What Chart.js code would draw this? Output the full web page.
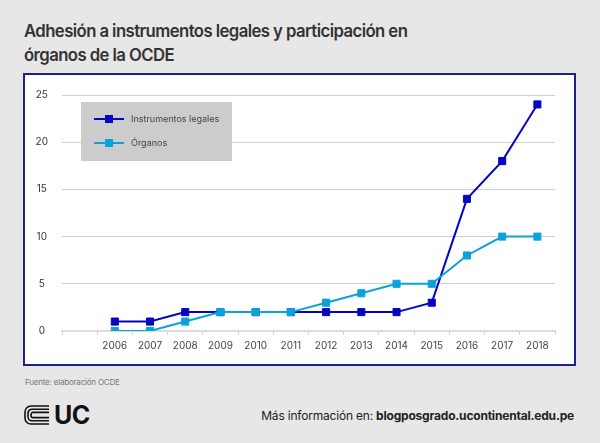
<!DOCTYPE html>
<html>
<head>
<meta charset="utf-8">
<script src="https://cdn.jsdelivr.net/npm/chart.js@4.4.1/dist/chart.umd.min.js"></script>
<style>
  html, body { margin: 0; padding: 0; }
  body { width: 600px; height: 443px; background: #e7e7e7; position: relative; overflow: hidden; font-family: Inter, "Noto Sans", sans-serif; }
  #title { position: absolute; left: 24px; top: 19px; font-size: 17.5px; font-weight: 600; line-height: 24px; color: #333; letter-spacing: -0.6px; transform: scaleX(0.955); transform-origin: 0 0; white-space: nowrap; }
  #box { position: absolute; left: 23px; top: 73px; width: 553px; height: 293px; box-sizing: border-box; border: 2px solid #1f1f8f; background: #fff; }
  #src { position: absolute; left: 25px; top: 377px; font-size: 8px; color: #777; letter-spacing: -0.2px; }
  #logo { position: absolute; left: 24px; top: 403px; height: 24px; display: flex; align-items: center; }
  #logo span { font-size: 25px; font-weight: 700; color: #111; margin-left: 4px; letter-spacing: -0.5px; }
  #more { position: absolute; right: 26px; top: 408px; font-size: 12px; color: #222; letter-spacing: -0.2px; }
  #more b { font-weight: 700; }
</style>
</head>
<body>
<div id="title">Adhesión a instrumentos legales y participación en<br>órganos de la OCDE</div>
<div id="box"><canvas id="c" width="549" height="289"></canvas></div>
<div id="src">Fuente: elaboración OCDE</div>
<div id="logo">
  <svg width="26" height="20" viewBox="0 0 26 20">
    <g fill="none" stroke="#111" stroke-width="1.6">
      <path d="M25 1 H7 A6 6 0 0 0 1 7 V13 A6 6 0 0 0 7 19 H25"/>
      <path d="M25 4.2 H8 A4 4 0 0 0 4 8.2 V11.8 A4 4 0 0 0 8 15.8 H25"/>
      <path d="M25 7.4 H9 A2 2 0 0 0 7 9.4 V10.6 A2 2 0 0 0 9 12.6 H25"/>
    </g>
  </svg>
  <span>UC</span>
</div>
<div id="more">Más información en: <b>blogposgrado.ucontinental.edu.pe</b></div>
<script>
const categories = ["", "2006", "2007", "2008", "2009", "2010", "2011", "2012", "2013", "2014", "2015", "2016", "2017", "2018"];
const instrumentos = [null, 1, 1, 2, 2, 2, 2, 2, 2, 2, 3, 14, 18, 24];
const organos = [null, 0, 0, 1, 2, 2, 2, 3, 4, 5, 5, 8, 10, 10];
const yTicks = [0, 5, 10, 15, 20, 25];
const seriesNames = ["Instrumentos legales", "Órganos"];
const seriesColors = ["#0606c2", "#0ba2da"];

const legendPlugin = {
  id: 'boxLegend',
  afterDraw(chart) {
    const ctx = chart.ctx;
    ctx.save();
    ctx.fillStyle = '#cccccc';
    ctx.fillRect(56, 27, 151, 59);
    const rows = [44, 68];
    chart.data.datasets.forEach((ds, i) => {
      const y = rows[i];
      ctx.strokeStyle = ds.borderColor;
      ctx.lineWidth = 2;
      ctx.beginPath();
      ctx.moveTo(69, y);
      ctx.lineTo(99, y);
      ctx.stroke();
      ctx.fillStyle = ds.borderColor;
      ctx.fillRect(80, y - 4, 8, 8);
      ctx.fillStyle = '#444';
      ctx.font = '9px Inter, "Noto Sans", sans-serif';
      ctx.textBaseline = 'middle';
      ctx.textAlign = 'left';
      ctx.fillText(ds.label, 106, y + 0.5);
    });
    ctx.restore();
  }
};

new Chart(document.getElementById('c'), {
  type: 'line',
  data: {
    labels: categories,
    datasets: [
      { label: seriesNames[0], data: instrumentos, borderColor: seriesColors[0], backgroundColor: seriesColors[0],
        borderWidth: 2, pointStyle: 'rect', pointRadius: 5, pointBorderWidth: 1, pointBackgroundColor: seriesColors[0], pointBorderColor: seriesColors[0], order: 2, tension: 0 },
      { label: seriesNames[1], data: organos, borderColor: seriesColors[1], backgroundColor: seriesColors[1],
        borderWidth: 2, pointStyle: 'rect', pointRadius: 5, pointBorderWidth: 1, pointBackgroundColor: seriesColors[1], pointBorderColor: seriesColors[1], order: 1, tension: 0 }
    ]
  },
  options: {
    responsive: false,
    animation: false,
    devicePixelRatio: 1,
    layout: { padding: { left: 0, right: 19, top: 14, bottom: 0 } },
    plugins: { legend: { display: false }, tooltip: { enabled: false } },
    scales: {
      x: {
        offset: true,
        grid: { drawOnChartArea: false, drawTicks: true, tickLength: 4, color: '#d4d4d4', offset: true },
        border: { display: true, color: '#dcdcdc', width: 2 },
        ticks: { color: '#444', font: { family: 'Inter, "Noto Sans", sans-serif', size: 10 }, padding: 5, maxRotation: 0, autoSkip: false },
        afterFit(s) { s.height = 33; }
      },
      y: {
        min: 0, max: 25,
        afterBuildTicks(s) { s.ticks = yTicks.map(v => ({ value: v })); },
        grid: { color: (c) => c.tick && c.tick.value === 0 ? 'rgba(0,0,0,0)' : '#cfcfcf', lineWidth: 1, drawTicks: false },
        border: { display: false },
        ticks: { color: '#333', font: { family: 'Inter, "Noto Sans", sans-serif', size: 10 }, padding: 14, crossAlign: 'center' },
        afterFit(s) { s.width = 37; }
      }
    }
  },
  plugins: [legendPlugin]
});
</script>
</body>
</html>
